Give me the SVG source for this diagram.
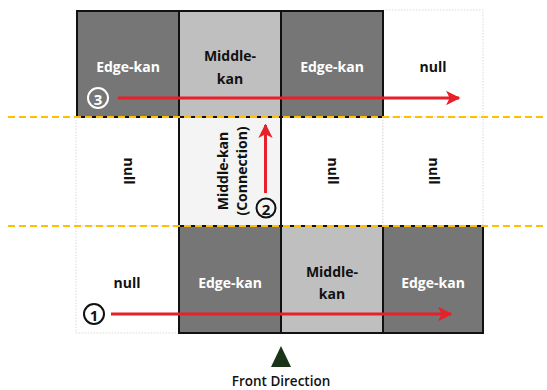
<svg xmlns="http://www.w3.org/2000/svg" width="547" height="390" viewBox="0 0 547 390">
<style>
text{font-family:"Open Sans","Liberation Sans",sans-serif;font-weight:700;font-size:14px;text-anchor:middle;dominant-baseline:central}
.edge{fill:#767676;stroke:#111;stroke-width:2}
.mid{fill:#bfbfbf;stroke:#111;stroke-width:2}
.conn{fill:#f3f4f3;stroke:#111;stroke-width:2}
.null{fill:#fff;stroke:#d9d9d9;stroke-width:1;stroke-dasharray:1.5 1.5}
.w{fill:#fff}
.k{fill:#111}
.num{font-size:15px}
.dash{stroke:#ffc000;stroke-width:2;stroke-dasharray:7 4;fill:none}
.arrow{stroke:#e8202a;stroke-width:3;fill:none;marker-end:url(#ah)}
</style>
<defs>
<marker id="ah" viewBox="0 0 10 10" refX="9" refY="5" markerWidth="4.8" markerHeight="4.8" orient="auto" markerUnits="strokeWidth">
<path d="M0,0 L10,5 L0,10 L2.5,5 z" fill="#e8202a"/>
</marker>
</defs>
<rect width="547" height="390" fill="#fff"/>
<g id="r3c4"><rect class="null" x="383" y="10" width="100" height="107"/><text x="433" y="66" class="k">null</text></g>
<g id="r2c1"><rect class="null" x="76" y="117" width="103" height="109"/><text class="k" transform="translate(129,171) rotate(90)">null</text></g>
<g id="r2c3"><rect class="null" x="281" y="117" width="102" height="109"/><text class="k" transform="translate(333,171) rotate(90)">null</text></g>
<g id="r2c4"><rect class="null" x="383" y="117" width="100" height="109"/><text class="k" transform="translate(434,171) rotate(90)">null</text></g>
<g id="r1c1"><rect class="null" x="76" y="226" width="103" height="107"/><text x="127" y="282" class="k">null</text></g>
<g id="r3c1"><rect class="edge" x="77" y="11" width="102" height="106"/><text x="128" y="66" class="w">Edge-kan</text></g>
<g id="r3c2"><rect class="mid" x="179" y="11" width="102" height="106"/><text x="230" y="55" class="k">Middle-</text><text x="230" y="78" class="k">kan</text></g>
<g id="r3c3"><rect class="edge" x="281" y="11" width="102" height="106"/><text x="332" y="66" class="w">Edge-kan</text></g>
<g id="r2c2"><rect class="conn" x="179" y="117" width="102" height="109"/><text class="k" transform="translate(222,171) rotate(-90)">Middle-kan</text><text class="k" transform="translate(241,171) rotate(-90)">(Connection)</text></g>
<g id="r1c2"><rect class="edge" x="179" y="226" width="102" height="107"/><text x="230" y="282" class="w">Edge-kan</text></g>
<g id="r1c3"><rect class="mid" x="281" y="226" width="102" height="107"/><text x="332" y="271" class="k">Middle-</text><text x="332" y="293" class="k">kan</text></g>
<g id="r1c4"><rect class="edge" x="383" y="226" width="100" height="107"/><text x="433" y="282" class="w">Edge-kan</text></g>
<g id="guides">
<line class="dash" x1="8" y1="117" x2="547" y2="117"/>
<line class="dash" x1="8" y1="226" x2="547" y2="226"/>
</g>
<g id="connectors">
<line class="arrow" x1="118" y1="98" x2="459" y2="98"/>
<line class="arrow" x1="111" y1="314" x2="451" y2="314"/>
<line class="arrow" x1="265.5" y1="193" x2="265.5" y2="125"/>
</g>
<g id="num3"><circle cx="98" cy="98" r="10" fill="none" stroke="#fff" stroke-width="2"/><text x="98" y="98.5" class="w num">3</text></g>
<g id="num1"><circle cx="94" cy="314" r="10" fill="none" stroke="#111" stroke-width="2"/><text x="94" y="314.5" class="k num">1</text></g>
<g id="num2"><circle cx="266" cy="208" r="9.5" fill="none" stroke="#111" stroke-width="2"/><text x="266" y="208.5" class="k num">2</text></g>
<g id="front"><path d="M281,346 L291,367 L271,367 z" fill="#1b3319"/><text x="281" y="381" class="k" style="font-size:13.5px;font-weight:600">Front Direction</text></g>
</svg>
